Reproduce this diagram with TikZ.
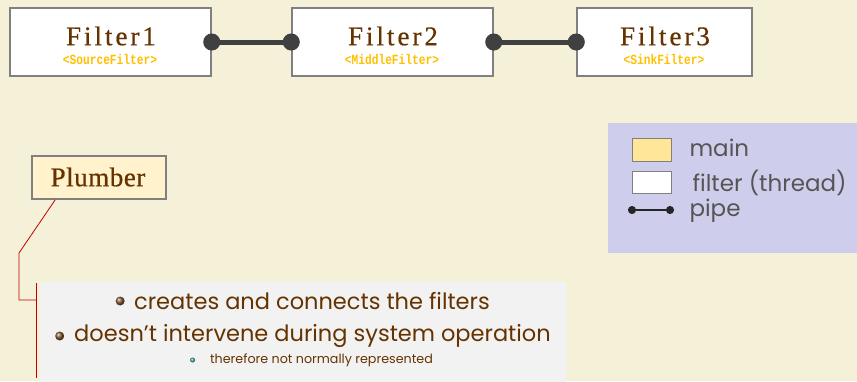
\documentclass[tikz,border=0pt]{standalone}
\usepackage{fontspec}
\usetikzlibrary{arrows.meta}

\newfontfamily\filterfont[LetterSpace=11,FakeBold=0.6]{Liberation Serif}
\newfontfamily\classfont[FakeStretch=0.8]{Liberation Mono}
\newfontfamily\notefont{Poppins}

\definecolor{cream}{RGB}{245,240,216}
\definecolor{filterbrown}{RGB}{102,51,0}
\definecolor{classgold}{RGB}{255,192,0}
\definecolor{boxgray}{RGB}{128,128,128}
\definecolor{mainyellow}{RGB}{255,242,204}
\definecolor{legendyellow}{RGB}{255,230,153}
\definecolor{notegray}{RGB}{242,242,242}
\definecolor{legendblue}{RGB}{206,206,236}
\definecolor{pipegray}{RGB}{64,64,64}
\definecolor{legendtext}{RGB}{85,85,85}
\definecolor{calloutred}{RGB}{192,0,0}

\tikzset{
  filterbox/.style={draw=boxgray, line width=1.5pt, fill=white, minimum height=68pt},
  filtername/.style={text=filterbrown, font=\filterfont\fontsize{27}{27}\selectfont},
  filterclass/.style={text=classgold, font=\classfont\bfseries\fontsize{14}{14}\selectfont},
  pipe/.style={line width=5pt, pipegray, {Circle[length=17pt,width=17pt]}-{Circle[length=17pt,width=17pt]},
    shorten <=-8.5pt, shorten >=-8.5pt},
  callout/.style={calloutred, line width=0.8pt},
  noteline/.style={text=filterbrown, font=\notefont\fontsize{22.5}{22.5}\selectfont},
  legendline/.style={anchor=west, text=legendtext, font=\notefont\fontsize{23}{23}\selectfont},
}

\begin{document}
\begin{tikzpicture}[x=1pt, y=-1pt]
  \useasboundingbox (0,0) rectangle (857,381);
  \fill[cream] (0,0) rectangle (857,381);

  % filters and pipes
  \node[filterbox, minimum width=201pt] (f1) at (110.5,42) {};
  \node[filterbox, minimum width=201pt] (f2) at (392.5,42) {};
  \node[filterbox, minimum width=175pt] (f3) at (664.5,42) {};
  \node[filtername] (f1name) at (111,36) {Filter1};
  \node[filtername] (f2name) at (393,36) {Filter2};
  \node[filtername] (f3name) at (665,36) {Filter3};
  \node[filterclass] (f1class) at (110,59) {<SourceFilter>};
  \node[filterclass] (f2class) at (392,59) {<MiddleFilter>};
  \node[filterclass] (f3class) at (664,59) {<SinkFilter>};
  \draw[pipe] (f1.east) -- (f2.west);
  \draw[pipe] (f2.east) -- (f3.west);

  % plumber and its note
  \node[filterbox, fill=mainyellow, minimum width=134pt, minimum height=43pt] (plumber) at (99,177.5) {};
  \node[filtername, font=\filterfont\addfontfeature{LetterSpace=2}\fontsize{27}{27}\selectfont] (plumbername) at (98,177) {Plumber};
  \node[fill=notegray, minimum width=526pt, minimum height=100pt, inner sep=0pt] (notes) at (303,332) {};
  \coordinate (bracktop) at (36,283);
  \coordinate (brackbot) at (36,378);
  \draw[callout] ([xshift=24pt]plumber.south west) -- (19,253) -- (19,300) -- (36,300);
  \draw[callout] (bracktop) -- (brackbot);

  \node[noteline] (l1) at (312,301) {creates and connects the filters};
  \node[noteline] (l2) at (312.5,336) {doesn’t intervene during system operation};
  \node[noteline, font=\notefont\fontsize{12.7}{12.7}\selectfont] (l3) at (321.5,360) {therefore not normally represented};
  \shade[ball color=filterbrown!80] ([xshift=-10.5pt]l1.west) circle (4.5pt);
  \shade[ball color=filterbrown!80] ([xshift=-11pt]l2.west) circle (4.5pt);
  \shade[ball color=teal!70] ([xshift=-14pt]l3.west) circle (2.5pt);

  % legend
  \fill[legendblue] (608,123) rectangle (857,253);
  \node[filterbox, fill=legendyellow, line width=1pt, minimum width=39pt, minimum height=23pt] (keymain) at (651.5,149.5) {};
  \node[filterbox, line width=1pt, minimum width=39pt, minimum height=22pt] (keyfilter) at (651.5,182) {};
  \coordinate (keypipea) at (632,210);
  \coordinate (keypipeb) at (670,210);
  \draw[pipe, line width=2pt, black!85, {Circle[length=8pt,width=8pt]}-{Circle[length=8pt,width=8pt]},
    shorten <=-4pt, shorten >=-4pt] (keypipea) -- (keypipeb);
  \node[legendline] (keymaintext) at (686,148) {main};
  \node[legendline] (keyfiltertext) at (689,183) {filter (thread)};
  \node[legendline] (keypipetext) at (686,211) {pipe};
\end{tikzpicture}
\end{document}
